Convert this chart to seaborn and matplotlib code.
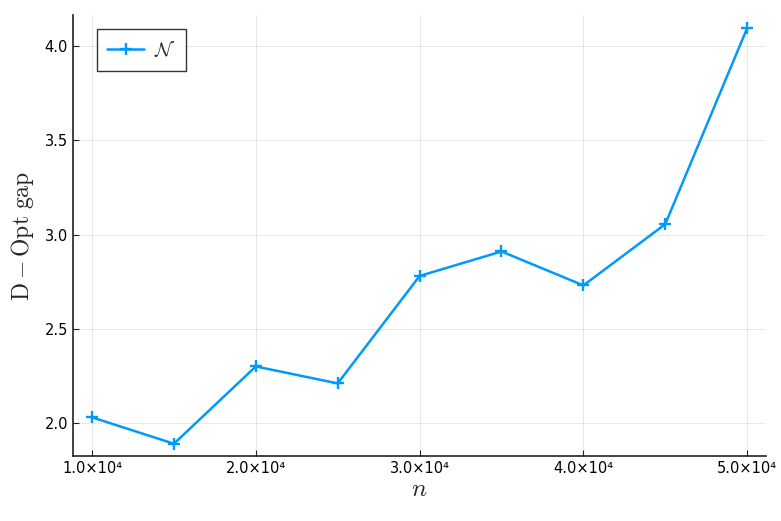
import numpy as np
import pandas as pd
import matplotlib
matplotlib.use('Agg')
import matplotlib.pyplot as plt
import seaborn as sns
from matplotlib.ticker import FixedLocator, FuncFormatter

# Data
n_values = [10000, 15000, 20000, 25000, 30000, 35000, 40000, 45000, 50000]
gap_values = [2.03, 1.89, 2.30, 2.21, 2.78, 2.91, 2.73, 3.055, 4.095]
x_ticks = [10000, 20000, 30000, 40000, 50000]
y_ticks = [2.0, 2.5, 3.0, 3.5, 4.0]

sns.set_style('white')
plt.rcParams['font.family'] = ['DejaVu Sans']
plt.rcParams['mathtext.fontset'] = 'cm'

df = pd.DataFrame({'n': n_values, 'gap': gap_values})

fig = plt.figure(figsize=(7.81, 5.21), dpi=100)
ax = fig.add_axes([0.0935, 0.1248, 0.8875, 0.8462])

blue = '#009AFA'
sns.lineplot(data=df, x='n', y='gap', ax=ax, color=blue, linewidth=1.8,
             marker='+', markersize=9, markeredgewidth=1.7,
             markeredgecolor=blue, label=r'$\mathcal{N}$')

ax.set_xlim(8840, 51160)
ax.set_ylim(1.825, 4.164)
ax.xaxis.set_major_locator(FixedLocator(x_ticks))
ax.yaxis.set_major_locator(FixedLocator(y_ticks))
ax.xaxis.set_major_formatter(FuncFormatter(
    lambda v, p: '%.1f\u00d710\u2074' % (v / 1e4)))
ax.yaxis.set_major_formatter(FuncFormatter(lambda v, p: '%.1f' % v))

ax.grid(True, color='#000000', alpha=0.1, linewidth=0.6)
for side in ['top', 'right']:
    ax.spines[side].set_visible(False)
for side in ['left', 'bottom']:
    ax.spines[side].set_color('#222222')
    ax.spines[side].set_linewidth(1.2)
ax.tick_params(direction='in', length=4, width=0.8, colors='#222222', labelsize=10.5,
               labelcolor='black', bottom=True, left=True)

ax.set_xlabel(r'$n$', fontsize=18, labelpad=1)
ax.set_ylabel(r'$\mathrm{D-Opt\ gap}$', fontsize=17, labelpad=6)

leg = ax.legend(loc='upper left', fontsize=14, frameon=True, fancybox=False,
                borderpad=0.55, handlelength=1.9, handletextpad=0.5,
                bbox_to_anchor=(0.02, 0.99))
leg.get_frame().set_edgecolor('black')
leg.get_frame().set_linewidth(1.0)

fig.savefig('out.png', dpi=100)
